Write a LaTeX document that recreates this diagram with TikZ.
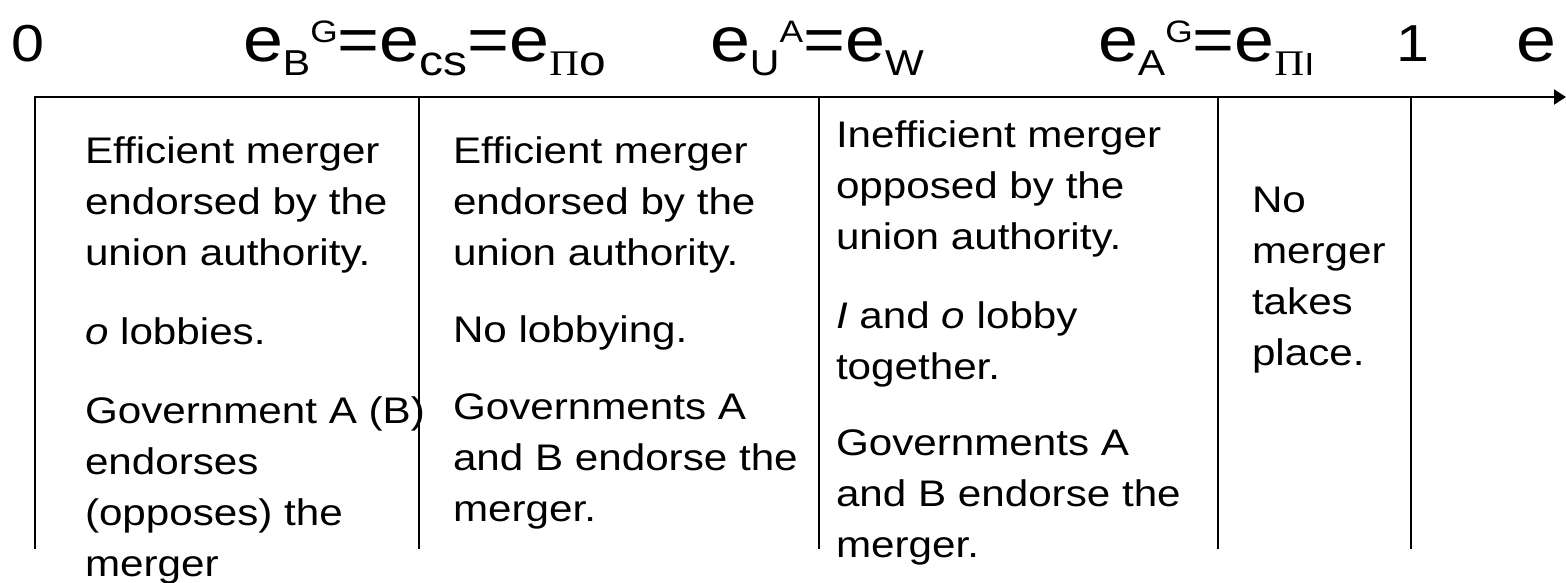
\documentclass[tikz,border=0pt]{standalone}
\usepackage{fontspec}
\setmainfont{Liberation Sans}[FakeStretch=1.14]
\newfontfamily\piserif{Liberation Serif}[FakeStretch=1.14]
\usetikzlibrary{arrows.meta}

% type sizes (1pt = one unit of the drawing)
\newcommand{\bodysize}{\fontsize{37}{51}\selectfont}
\newcommand{\esize}{\fontsize{63}{63}\selectfont}
\newcommand{\digitsize}{\fontsize{52}{52}\selectfont}
% subscript and superscript set beside the symbol
\newcommand{\lowidx}[2][36]{\raisebox{-14pt}{\fontsize{#1}{#1}\selectfont #2}}
\newcommand{\highidx}[2][31]{\raisebox{19pt}{\fontsize{#1}{#1}\selectfont #2}}
% a left-aligned column of lines whose first baseline is the anchor
\newcommand{\lines}[1]{\begin{tabular}[t]{@{}l@{}}#1\end{tabular}}

\begin{document}
\begin{tikzpicture}[x=1pt,y=-1pt,line width=2pt,
  coltext/.style={anchor=base west,inner sep=0pt,font=\bodysize},
  hdr/.style={anchor=base west,inner sep=0pt,font=\esize},
  digit/.style={anchor=base west,inner sep=0pt,font=\digitsize},
  divider/.style={line width=2pt}]
\useasboundingbox (0,0) rectangle (1566,582);

% the e axis
\coordinate (axs) at (34,97);
\coordinate (axe) at (1566,97);
\draw[-{Triangle[length=12pt,width=15pt]}] (axs) -- (axe);

% interval dividers
\foreach \n/\x in {a/35,b/419,c/819,d/1218,e/1411}{
  \coordinate (t\n) at (\x,97);
  \coordinate (b\n) at (\x,549);
  \draw[divider] (t\n) -- (b\n);
}

% thresholds above the axis
\node[digit] (zero) at (10,61) {0};
\node[hdr] (thrB) at (242,61)
  {e\lowidx{B}\highidx{G}=e\lowidx[42]{cs}=e\lowidx{{\piserif Π}}\lowidx[42]{o}};
\node[hdr] (thrU) at (709,61) {e\lowidx{U}\highidx{A}=e\lowidx{W}};
\node[hdr] (thrA) at (1097,61)
  {e\lowidx{A}\highidx{G}=e\lowidx{{\piserif Π}}\lowidx[32]{I}};
\node[digit] (one) at (1395,61) {1};
\node[hdr] (evar) at (1515,61) {e};

% outcomes in each interval
\node[coltext] (col1) at (84,163) {\lines{%
  Efficient merger\\
  endorsed by the\\
  union authority.\\[28pt]
  \textit{o} lobbies.\\[28pt]
  Government A (B)\\
  endorses\\
  (opposes) the\\
  merger}};
\node[coltext] (col2) at (452,163) {\lines{%
  Efficient merger\\
  endorsed by the\\
  union authority.\\[26pt]
  No lobbying.\\[26pt]
  Governments A\\
  and B endorse the\\
  merger.}};
\node[coltext] (col3) at (835,147) {\lines{%
  Inefficient merger\\
  opposed by the\\
  union authority.\\[28pt]
  \textit{I} and \textit{o} lobby\\
  together.\\[25pt]
  Governments A\\
  and B endorse the\\
  merger.}};
\node[coltext] (col4) at (1251,212) {\lines{%
  No\\
  merger\\
  takes\\
  place.}};
\end{tikzpicture}
\end{document}
